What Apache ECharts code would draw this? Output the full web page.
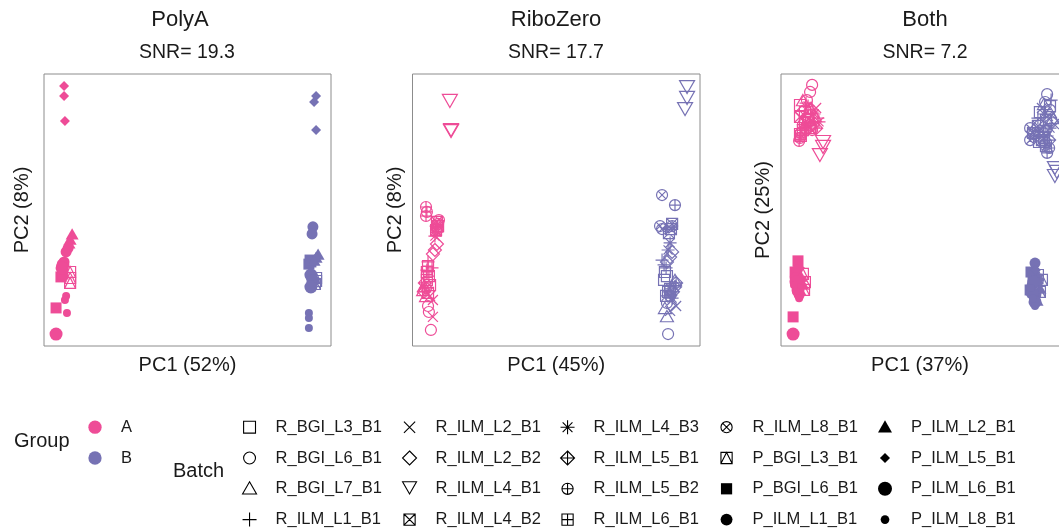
<!DOCTYPE html>
<html><head><meta charset="utf-8">
<script src="https://cdn.jsdelivr.net/npm/echarts@6/dist/echarts.min.js"></script>
<style>html,body{margin:0;padding:0;background:#fff}#c{width:1059px;height:530px}</style>
</head><body><div id="c"></div>
<script>
// ---------------- DATA ----------------
const groupNames = ['A', 'B'];
const panelTitles = ['PolyA', 'RiboZero', 'Both'];
const panelSNR = ['SNR= 19.3', 'SNR= 17.7', 'SNR= 7.2'];
const pc1Labels = ['PC1 (52%)', 'PC1 (45%)', 'PC1 (37%)'];
const pc2Labels = ['PC2 (8%)', 'PC2 (8%)', 'PC2 (25%)'];
const batchNames = [
  'R_BGI_L3_B1', 'R_BGI_L6_B1', 'R_BGI_L7_B1', 'R_ILM_L1_B1',
  'R_ILM_L2_B1', 'R_ILM_L2_B2', 'R_ILM_L4_B1', 'R_ILM_L4_B2',
  'R_ILM_L4_B3', 'R_ILM_L5_B1', 'R_ILM_L5_B2', 'R_ILM_L6_B1',
  'R_ILM_L8_B1', 'P_BGI_L3_B1', 'P_BGI_L6_B1', 'P_ILM_L1_B1',
  'P_ILM_L2_B1', 'P_ILM_L5_B1', 'P_ILM_L6_B1', 'P_ILM_L8_B1'
];

// [batch, PC1 (scaled), PC2 (scaled)]
const polyA_A = [
  ['P_ILM_L5_B1', 7.0, 95.6], ['P_ILM_L5_B1', 7.0, 91.9], ['P_ILM_L5_B1', 7.3, 82.7],
  ['P_ILM_L2_B1', 9.8, 41.2], ['P_ILM_L2_B1', 9.1, 39.3], ['P_ILM_L2_B1', 8.7, 37.9],
  ['P_ILM_L1_B1', 8.4, 36.0], ['P_ILM_L1_B1', 7.7, 34.6], ['P_ILM_L1_B1', 7.0, 30.9],
  ['P_ILM_L6_B1', 6.6, 29.8], ['P_ILM_L6_B1', 6.3, 28.7], ['P_ILM_L6_B1', 4.2, 4.4],
  ['P_ILM_L8_B1', 7.7, 18.4], ['P_ILM_L8_B1', 7.3, 16.9], ['P_ILM_L8_B1', 8.0, 12.1],
  ['P_BGI_L6_B1', 5.9, 25.4], ['P_BGI_L6_B1', 4.2, 14.0], ['P_BGI_L6_B1', 6.6, 26.5],
  ['P_BGI_L3_B1', 9.1, 27.2], ['P_BGI_L3_B1', 9.1, 25.0], ['P_BGI_L3_B1', 9.1, 23.2]
];
const polyA_B = [
  ['P_ILM_L5_B1', 94.8, 91.9], ['P_ILM_L5_B1', 94.1, 89.7], ['P_ILM_L5_B1', 94.8, 79.4],
  ['P_ILM_L1_B1', 93.7, 43.8], ['P_ILM_L1_B1', 93.4, 41.2], ['P_ILM_L1_B1', 93.0, 25.7],
  ['P_ILM_L2_B1', 95.5, 33.8], ['P_ILM_L2_B1', 94.8, 32.7], ['P_ILM_L2_B1', 94.1, 31.6],
  ['P_BGI_L6_B1', 92.7, 31.6], ['P_BGI_L6_B1', 92.3, 30.1], ['P_BGI_L6_B1', 93.0, 30.9],
  ['P_ILM_L6_B1', 93.0, 26.1], ['P_ILM_L6_B1', 93.7, 23.9], ['P_ILM_L6_B1', 93.0, 21.7],
  ['P_BGI_L3_B1', 94.8, 23.9], ['P_BGI_L3_B1', 94.4, 22.8], ['P_BGI_L3_B1', 94.8, 25.0],
  ['P_ILM_L8_B1', 92.3, 12.1], ['P_ILM_L8_B1', 92.3, 10.3], ['P_ILM_L8_B1', 92.3, 6.6]
];
const ribo_A = [
  ['R_ILM_L4_B1', 13.0, 90.1], ['R_ILM_L4_B1', 13.4, 79.4], ['R_ILM_L4_B1', 13.4, 79.0],
  ['R_ILM_L5_B2', 4.7, 51.1], ['R_ILM_L5_B2', 4.7, 47.8], ['R_ILM_L5_B2', 5.0, 49.3],
  ['R_ILM_L4_B2', 8.5, 45.6], ['R_ILM_L4_B2', 8.9, 44.1], ['R_ILM_L4_B2', 8.2, 42.6],
  ['R_ILM_L4_B3', 8.2, 44.1], ['R_ILM_L4_B3', 8.5, 41.9], ['R_ILM_L4_B3', 7.8, 40.4],
  ['R_ILM_L8_B1', 8.9, 44.9], ['R_ILM_L8_B1', 8.5, 43.0], ['R_ILM_L8_B1', 9.2, 46.3],
  ['R_ILM_L2_B2', 8.5, 37.5], ['R_ILM_L2_B2', 7.8, 35.3], ['R_ILM_L2_B2', 7.1, 33.8],
  ['R_ILM_L1_B1', 5.4, 30.9], ['R_ILM_L1_B1', 6.8, 28.7], ['R_ILM_L1_B1', 5.0, 27.9],
  ['R_ILM_L6_B1', 5.4, 29.4], ['R_ILM_L6_B1', 5.0, 27.2], ['R_ILM_L6_B1', 5.7, 25.7],
  ['R_BGI_L3_B1', 5.0, 24.3], ['R_BGI_L3_B1', 6.1, 22.4], ['R_BGI_L3_B1', 5.4, 19.5],
  ['R_ILM_L5_B1', 4.3, 23.2], ['R_ILM_L5_B1', 4.7, 21.3], ['R_ILM_L5_B1', 4.0, 19.9],
  ['R_BGI_L7_B1', 3.7, 20.6], ['R_BGI_L7_B1', 4.7, 18.4], ['R_BGI_L7_B1', 4.0, 22.1],
  ['R_ILM_L2_B1', 7.1, 16.9], ['R_ILM_L2_B1', 7.1, 10.7], ['R_ILM_L2_B1', 6.1, 18.4],
  ['R_BGI_L6_B1', 5.7, 12.5], ['R_BGI_L6_B1', 6.4, 5.9], ['R_BGI_L6_B1', 5.4, 14.7]
];
const ribo_B = [
  ['R_ILM_L4_B1', 95.5, 95.2], ['R_ILM_L4_B1', 95.5, 91.2], ['R_ILM_L4_B1', 94.8, 87.1],
  ['R_ILM_L8_B1', 86.8, 55.5], ['R_ILM_L8_B1', 86.8, 43.0], ['R_ILM_L8_B1', 86.1, 44.1],
  ['R_ILM_L5_B2', 91.3, 51.8], ['R_ILM_L5_B2', 90.3, 44.1], ['R_ILM_L5_B2', 89.6, 18.4],
  ['R_ILM_L4_B2', 90.3, 44.9], ['R_ILM_L4_B2', 89.9, 43.0], ['R_ILM_L4_B2', 89.2, 41.5],
  ['R_ILM_L4_B3', 89.6, 37.9], ['R_ILM_L4_B3', 88.9, 35.3], ['R_ILM_L4_B3', 90.3, 17.6],
  ['R_ILM_L2_B2', 89.6, 32.7], ['R_ILM_L2_B2', 88.5, 30.9], ['R_ILM_L2_B2', 90.3, 34.6],
  ['R_ILM_L1_B1', 86.8, 31.6], ['R_ILM_L1_B1', 88.2, 28.7], ['R_ILM_L1_B1', 87.5, 29.8],
  ['R_BGI_L3_B1', 87.8, 27.2], ['R_BGI_L3_B1', 88.5, 25.7], ['R_BGI_L3_B1', 87.5, 24.3],
  ['R_BGI_L7_B1', 91.3, 24.3], ['R_BGI_L7_B1', 87.8, 14.0], ['R_BGI_L7_B1', 88.5, 11.0],
  ['R_ILM_L5_B1', 91.3, 21.7], ['R_ILM_L5_B1', 90.6, 19.9], ['R_ILM_L5_B1', 91.7, 23.2],
  ['R_ILM_L6_B1', 88.9, 19.9], ['R_ILM_L6_B1', 88.2, 18.4], ['R_ILM_L6_B1', 89.6, 21.0],
  ['R_ILM_L2_B1', 90.3, 16.9], ['R_ILM_L2_B1', 91.7, 14.7], ['R_ILM_L2_B1', 89.6, 12.9],
  ['R_BGI_L6_B1', 88.9, 4.4], ['R_BGI_L6_B1', 88.5, 15.8], ['R_BGI_L6_B1', 89.6, 21.0]
];
const both_A = [
  ['R_BGI_L6_B1', 10.8, 96.0], ['R_BGI_L6_B1', 10.1, 93.4], ['R_BGI_L6_B1', 9.0, 90.4],
  ['R_ILM_L4_B1', 14.6, 75.0], ['R_ILM_L4_B1', 14.6, 73.2], ['R_ILM_L4_B1', 13.5, 70.2],
  ['R_ILM_L5_B2', 6.6, 76.5], ['R_ILM_L5_B2', 6.9, 78.3], ['R_ILM_L5_B2', 6.3, 75.4],
  ['R_ILM_L6_B1', 6.9, 77.2], ['R_ILM_L6_B1', 7.6, 79.4], ['R_ILM_L6_B1', 6.6, 77.9],
  ['R_BGI_L3_B1', 6.6, 88.6], ['R_BGI_L3_B1', 8.3, 86.0], ['R_BGI_L3_B1', 9.4, 83.1],
  ['R_BGI_L7_B1', 7.6, 90.4], ['R_BGI_L7_B1', 10.1, 87.5], ['R_BGI_L7_B1', 11.8, 84.6],
  ['R_ILM_L1_B1', 8.7, 89.3], ['R_ILM_L1_B1', 10.8, 86.8], ['R_ILM_L1_B1', 12.8, 83.8],
  ['R_ILM_L2_B1', 8.0, 84.9], ['R_ILM_L2_B1', 10.4, 82.4], ['R_ILM_L2_B1', 12.2, 87.5],
  ['R_ILM_L2_B2', 9.0, 83.8], ['R_ILM_L2_B2', 11.1, 81.3], ['R_ILM_L2_B2', 7.3, 86.0],
  ['R_ILM_L4_B2', 8.3, 82.4], ['R_ILM_L4_B2', 10.1, 80.1], ['R_ILM_L4_B2', 6.6, 84.2],
  ['R_ILM_L4_B3', 9.4, 88.2], ['R_ILM_L4_B3', 11.5, 85.3], ['R_ILM_L4_B3', 13.2, 82.4],
  ['R_ILM_L5_B1', 10.4, 80.9], ['R_ILM_L5_B1', 8.7, 79.4], ['R_ILM_L5_B1', 12.2, 80.1],
  ['R_ILM_L8_B1', 7.6, 81.3], ['R_ILM_L8_B1', 9.7, 83.5], ['R_ILM_L8_B1', 10.8, 79.4],
  ['P_BGI_L6_B1', 5.9, 31.3], ['P_BGI_L6_B1', 4.2, 10.7], ['P_BGI_L6_B1', 4.9, 27.2],
  ['P_ILM_L6_B1', 4.2, 4.4], ['P_ILM_L6_B1', 5.2, 23.5], ['P_ILM_L6_B1', 5.9, 20.6],
  ['P_ILM_L2_B1', 6.9, 25.7], ['P_ILM_L2_B1', 7.6, 22.8], ['P_ILM_L2_B1', 6.6, 20.6],
  ['P_ILM_L1_B1', 5.6, 27.9], ['P_ILM_L1_B1', 4.9, 25.0], ['P_ILM_L1_B1', 6.3, 18.8],
  ['P_ILM_L5_B1', 6.6, 28.7], ['P_ILM_L5_B1', 7.3, 24.3], ['P_ILM_L5_B1', 5.6, 21.7],
  ['P_ILM_L8_B1', 5.2, 19.9], ['P_ILM_L8_B1', 6.3, 17.6], ['P_ILM_L8_B1', 4.5, 22.4],
  ['P_BGI_L3_B1', 7.6, 26.5], ['P_BGI_L3_B1', 8.3, 23.5], ['P_BGI_L3_B1', 8.0, 20.6]
];
const both_B = [
  ['R_BGI_L6_B1', 92.4, 92.6], ['R_BGI_L6_B1', 91.7, 89.7], ['R_BGI_L6_B1', 93.4, 86.8],
  ['R_ILM_L4_B1', 95.1, 65.4], ['R_ILM_L4_B1', 95.1, 62.5], ['R_ILM_L4_B1', 95.8, 64.0],
  ['R_ILM_L5_B2', 92.4, 71.0], ['R_ILM_L5_B2', 91.7, 73.9], ['R_ILM_L5_B2', 93.1, 72.8],
  ['R_ILM_L8_B1', 86.5, 80.1], ['R_ILM_L8_B1', 86.5, 75.7], ['R_ILM_L8_B1', 87.8, 77.9],
  ['R_ILM_L4_B2', 87.5, 78.3], ['R_ILM_L4_B2', 90.6, 75.7], ['R_ILM_L4_B2', 89.2, 80.9],
  ['R_BGI_L3_B1', 89.9, 86.0], ['R_BGI_L3_B1', 92.0, 83.1], ['R_BGI_L3_B1', 93.4, 88.2],
  ['R_BGI_L7_B1', 91.3, 89.0], ['R_BGI_L7_B1', 93.4, 86.0], ['R_BGI_L7_B1', 94.4, 83.8],
  ['R_ILM_L1_B1', 89.2, 83.8], ['R_ILM_L1_B1', 91.7, 80.9], ['R_ILM_L1_B1', 93.8, 90.4],
  ['R_ILM_L2_B1', 90.6, 87.5], ['R_ILM_L2_B1', 92.7, 84.6], ['R_ILM_L2_B1', 94.8, 81.6],
  ['R_ILM_L2_B2', 92.0, 79.4], ['R_ILM_L2_B2', 94.1, 82.4], ['R_ILM_L2_B2', 89.9, 81.6],
  ['R_ILM_L4_B3', 91.3, 85.3], ['R_ILM_L4_B3', 93.4, 80.1], ['R_ILM_L4_B3', 92.4, 77.2],
  ['R_ILM_L5_B1', 88.5, 77.2], ['R_ILM_L5_B1', 91.0, 78.7], ['R_ILM_L5_B1', 93.1, 75.7],
  ['R_ILM_L6_B1', 89.6, 75.0], ['R_ILM_L6_B1', 91.3, 76.5], ['R_ILM_L6_B1', 92.0, 73.5],
  ['P_ILM_L1_B1', 88.2, 30.5], ['P_ILM_L1_B1', 87.2, 22.4], ['P_ILM_L1_B1', 88.5, 18.8],
  ['P_BGI_L6_B1', 86.8, 27.2], ['P_BGI_L6_B1', 87.5, 25.0], ['P_BGI_L6_B1', 86.5, 20.6],
  ['P_ILM_L2_B1', 89.2, 25.7], ['P_ILM_L2_B1', 89.9, 21.3], ['P_ILM_L2_B1', 88.9, 16.9],
  ['P_ILM_L6_B1', 87.8, 23.5], ['P_ILM_L6_B1', 87.2, 19.5], ['P_ILM_L6_B1', 88.2, 16.2],
  ['P_ILM_L5_B1', 88.5, 27.9], ['P_ILM_L5_B1', 89.6, 23.2], ['P_ILM_L5_B1', 87.8, 18.0],
  ['P_ILM_L8_B1', 87.5, 17.6], ['P_ILM_L8_B1', 88.2, 14.7], ['P_ILM_L8_B1', 86.8, 21.3],
  ['P_BGI_L3_B1', 89.2, 26.1], ['P_BGI_L3_B1', 90.6, 24.3], ['P_BGI_L3_B1', 89.9, 19.9]
];

// ---------------- STYLE ----------------
const FONT = '"Liberation Sans", Arial, Helvetica, sans-serif';
const TXT = '#1a1a1a';
const groupColors = ['#EE4C97', '#7672B4'];
const SQ = 'M0 0L100 0L100 100L0 100Z';
const CI = 'M0 50A50 50 0 0 1 100 50A50 50 0 0 1 0 50Z';
const PL = 'M50 0L50 100M0 50L100 50';
const XX = 'M0 0L100 100M100 0L0 100';
const XC = 'M14.6 14.6L85.4 85.4M85.4 14.6L14.6 85.4';
const DI = 'M50 0L100 50L50 100L0 50Z';
const SHAPES = {
  sq: SQ, ci: CI, tri: 'M50 0L100 87L0 87Z', plus: PL, cross: XX, dia: DI,
  dtri: 'M0 0L100 0L50 87Z', sqx: SQ + XX, star: PL + 'M15 15L85 85M85 15L15 85',
  diaplus: DI + PL, ciplus: CI + PL, sqplus: SQ + PL, cix: CI + XC,
  sqtri: SQ + 'M0 100L50 0L100 100'
};
// batch -> [shape, filled, plot size, legend fraction]
const batchStyle = {
  R_BGI_L3_B1: ['sq', false, 11, 0.85], R_BGI_L6_B1: ['ci', false, 11, 0.85],
  R_BGI_L7_B1: ['tri', false, 13, 1], R_ILM_L1_B1: ['plus', false, 13, 1],
  R_ILM_L2_B1: ['cross', false, 10, 0.8], R_ILM_L2_B2: ['dia', false, 13, 1],
  R_ILM_L4_B1: ['dtri', false, 15, 1], R_ILM_L4_B2: ['sqx', false, 11, 0.8],
  R_ILM_L4_B3: ['star', false, 13, 1], R_ILM_L5_B1: ['diaplus', false, 13, 1],
  R_ILM_L5_B2: ['ciplus', false, 11, 0.8], R_ILM_L6_B1: ['sqplus', false, 11, 0.8],
  R_ILM_L8_B1: ['cix', false, 11, 0.8], P_BGI_L3_B1: ['sqtri', false, 11, 0.8],
  P_BGI_L6_B1: ['sq', true, 11, 0.8], P_ILM_L1_B1: ['ci', true, 11, 0.85],
  P_ILM_L2_B1: ['tri', true, 13, 1], P_ILM_L5_B1: ['dia', true, 10, 0.72],
  P_ILM_L6_B1: ['ci', true, 13, 1], P_ILM_L8_B1: ['ci', true, 8, 0.62]
};
function padded(path, f) {
  const p = (100 / f - 100) / 2;
  return 'path://M' + (-p) + ' ' + (-p) + 'M' + (100 + p) + ' ' + (100 + p) + path;
}

const grids = [
  { left: 44, top: 74, width: 287, height: 272 },
  { left: 412.5, top: 74, width: 287.5, height: 272 },
  { left: 781, top: 74, width: 288, height: 272 }
];
const yNameGap = [12, 7.5, 8];
const xNamePad = [[0, 0, 0, 0], [0, 0, 0, 0], [0, 10, 0, 0]];
const panelData = [[polyA_A, polyA_B], [ribo_A, ribo_B], [both_A, both_B]];

const series = [];
panelData.forEach((pd, p) => {
  pd.forEach((pts, gi) => {
    batchNames.forEach(b => {
      const d = pts.filter(r => r[0] === b).map(r => [r[1], r[2]]);
      if (!d.length) return;
      const st = batchStyle[b];
      series.push({
        type: 'scatter', name: b, xAxisIndex: p, yAxisIndex: p, data: d,
        symbol: 'path://' + SHAPES[st[0]], symbolSize: st[2], symbolKeepAspect: true,
        itemStyle: st[1]
          ? { color: groupColors[gi], borderWidth: 0, opacity: 1 }
          : { color: 'rgba(0,0,0,0)', borderColor: groupColors[gi], borderWidth: 1.2, opacity: 1 },
        emphasis: { disabled: true }, silent: true, animation: false, clip: false
      });
    });
  });
});
// entries for the Group legend
groupNames.forEach((g, gi) => series.push({
  type: 'scatter', name: g, data: [], xAxisIndex: 0, yAxisIndex: 0,
  itemStyle: { color: groupColors[gi] }, silent: true
}));

const ROW0 = 418.7, ROWGAP = 13.8;
const legendBase = {
  orient: 'vertical', top: ROW0, padding: 0, itemWidth: 14, itemHeight: 14, itemGap: ROWGAP,
  selectedMode: false,
  textStyle: { fontSize: 16.5, color: TXT, fontFamily: FONT, lineHeight: 16, padding: [0, 0, 0, 14] }
};
const colTextX = [275, 435, 593, 752, 911];
const legends = colTextX.map((tx, c) => Object.assign({}, legendBase, {
  left: tx - 33,
  data: batchNames.slice(c * 4, c * 4 + 4).map(b => {
    const st = batchStyle[b];
    return {
      name: b, icon: padded(SHAPES[st[0]], st[3]),
      itemStyle: st[1] ? { color: '#000', borderWidth: 0, opacity: 1 }
        : { color: 'rgba(0,0,0,0)', borderColor: '#000', borderWidth: 1.1, opacity: 1 }
    };
  })
}));
legends.push(Object.assign({}, legendBase, {
  left: 88, itemGap: 13.8,
  data: groupNames.map((g, gi) => ({
    name: g, icon: padded(CI, 0.95),
    itemStyle: { color: groupColors[gi], borderWidth: 0, opacity: 1 }
  }))
}));

const graphic = [];
const titleX = [180, 556, 925], snrX = [187, 556, 925];
panelTitles.forEach((t, i) => {
  graphic.push({ type: 'text', x: titleX[i], y: 20, style: { text: t, fontSize: 22, fontFamily: FONT, fill: TXT, align: 'center', verticalAlign: 'middle' } });
  graphic.push({ type: 'text', x: snrX[i], y: 53, style: { text: panelSNR[i], fontSize: 19.5, fontFamily: FONT, fill: TXT, align: 'center', verticalAlign: 'middle' } });
});
graphic.push({ type: 'text', x: 14, y: 441, style: { text: 'Group', fontSize: 20, fontFamily: FONT, fill: TXT, align: 'left', verticalAlign: 'middle' } });
graphic.push({ type: 'text', x: 173, y: 471, style: { text: 'Batch', fontSize: 20, fontFamily: FONT, fill: TXT, align: 'left', verticalAlign: 'middle' } });

const hidden = { axisLine: { show: false }, axisTick: { show: false }, axisLabel: { show: false }, splitLine: { show: false } };
const option = {
  animation: false,
  backgroundColor: '#fff',
  textStyle: { fontFamily: FONT },
  grid: grids.map(g => Object.assign({
    show: true, borderColor: '#8c8c8c', borderWidth: 1, backgroundColor: 'rgba(0,0,0,0)',
    containLabel: false, outerBoundsMode: 'none'
  }, g)),
  xAxis: grids.map((g, i) => Object.assign({
    gridIndex: i, type: 'value', min: 0, max: 100, name: pc1Labels[i], nameLocation: 'middle', nameGap: 9,
    nameTextStyle: { fontSize: 20, color: TXT, fontFamily: FONT, padding: xNamePad[i] }
  }, hidden)),
  yAxis: grids.map((g, i) => Object.assign({
    gridIndex: i, type: 'value', min: 0, max: 100, name: pc2Labels[i], nameLocation: 'middle', nameGap: yNameGap[i],
    nameTextStyle: { fontSize: 20, color: TXT, fontFamily: FONT }
  }, hidden)),
  legend: legends,
  graphic: graphic,
  series: series
};
const chart = echarts.init(document.getElementById('c'), null, { renderer: 'canvas' });
chart.setOption(option);
</script>
</body></html>
